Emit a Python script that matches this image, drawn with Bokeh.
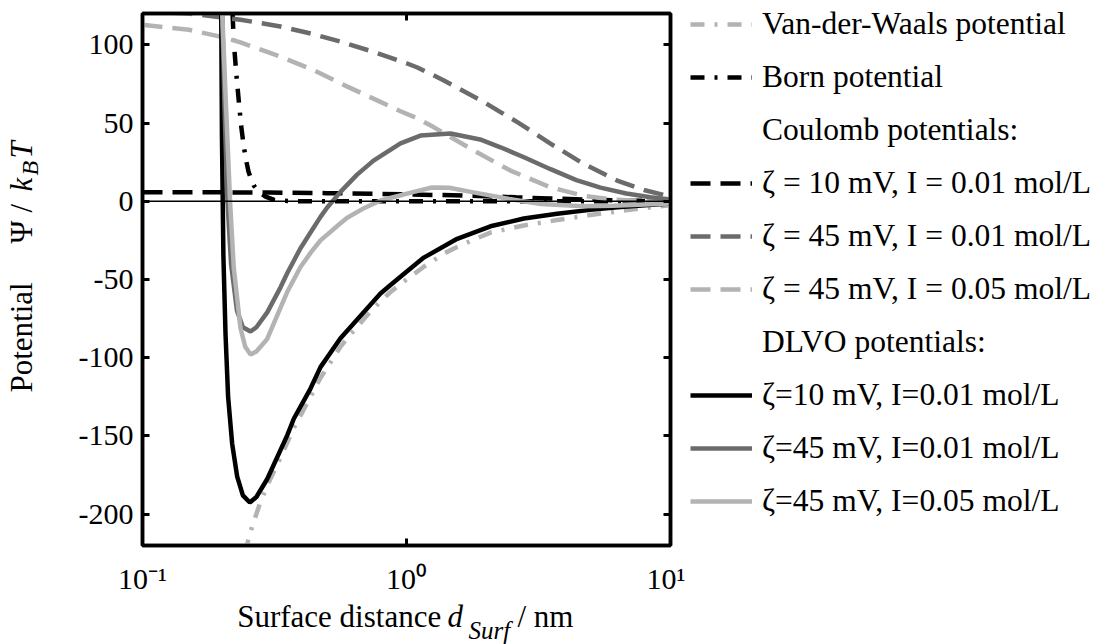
import numpy as np
from bokeh.plotting import figure
from bokeh.layouts import row, column
from bokeh.models import (Range1d, FixedTicker, LinearAxis, LogAxis, Legend,
                          LegendItem, Span)
from bokeh.core.properties import value
from bokeh.embed import file_html
from bokeh.resources import INLINE

# ---------------- data ----------------
# surface distance d / nm  and potential / kBT
d_vdw = [0.245, 0.2493, 0.26, 0.28, 0.30, 0.333, 0.374, 0.433, 0.472, 0.562, 0.60,
         0.70, 0.797, 0.87, 1.0, 1.16, 1.40, 1.56, 2.08, 2.78, 3.72, 4.96, 6.3, 8.0, 10.0]
v_vdw = [-225, -219, -208, -192, -180, -164, -145, -125, -113, -93, -87,
         -74, -64, -58, -50, -42, -33, -29, -20, -15.5, -12, -8.8, -6.5, -4.3, -2.5]

d_born = [0.212, 0.2154, 0.2192, 0.2217, 0.2265, 0.2316, 0.2365, 0.2419, 0.247, 0.252,
          0.258, 0.264, 0.278, 0.2924, 0.3135, 0.34, 0.40, 1.0, 10.0]
v_born = [190, 150, 121, 102, 82, 64, 48, 35, 26, 19,
          14, 10, 5.5, 3, 1, 0.3, 0, 0, 0]

d_coul_10_001 = [0.1, 0.2, 0.3, 0.5, 0.75, 1.0, 1.5, 2.0, 2.6, 3.5, 4.7, 6.3, 8.0, 10.0]
v_coul_10_001 = [5.8, 5.7, 5.6, 5.2, 4.8, 4.4, 3.8, 3.2, 2.5, 1.8, 1.1, 0.6, 0.35, 0.2]

d_coul_45_001 = [0.1, 0.15, 0.2, 0.235, 0.29, 0.333, 0.444, 0.562, 0.75, 1.0, 1.1, 1.38,
                 1.96, 2.27, 2.63, 3.51, 4.68, 6.28, 8.0, 9.17, 10.0]
v_coul_45_001 = [121.5, 120, 117.5, 116, 113.5, 111.7, 106.8, 102, 95.5, 88.2, 85.5, 77.4,
                 63.5, 57, 50.6, 36.8, 24, 13.2, 7, 4.6, 2.5]

d_coul_45_005 = [0.1, 0.15, 0.2, 0.235, 0.333, 0.444, 0.6, 0.797, 0.949, 1.1, 1.266,
                 1.794, 2.477, 3.512, 4.682, 6.0, 7.24, 10.0]
v_coul_45_005 = [112.8, 109.6, 105, 101.5, 92.4, 83.9, 73.1, 63.5, 57.5, 53, 47.4,
                 32.5, 19.6, 8.9, 3.5, 1.2, 0.5, 0.1]

d_dlvo_10_001 = [0.196, 0.1987, 0.200, 0.2025, 0.2063, 0.211, 0.2186, 0.2284, 0.24, 0.255,
                 0.27, 0.2968, 0.3533, 0.3742, 0.4329, 0.4723, 0.5623, 0.797, 0.87, 1.0,
                 1.163, 1.556, 2.08, 2.782, 3.72, 4.96, 6.3, 8.0, 10.0]
v_dlvo_10_001 = [170, 120, 40, -35, -85, -125, -155, -176, -188, -192.5,
                 -189, -177.5, -149.6, -139, -119.7, -106, -87.5, -59, -53.5, -45,
                 -36, -24, -16, -11, -8, -5.5, -3.8, -2.5, -1.5]

d_dlvo_45_001 = [0.1975, 0.2005, 0.2045, 0.2098, 0.2165, 0.228, 0.24, 0.2566, 0.27, 0.2968,
                 0.3333, 0.3533, 0.3967, 0.4329, 0.4723, 0.5009, 0.5623, 0.65, 0.75, 0.949,
                 1.13, 1.468, 1.9, 2.27, 2.8, 3.512, 4.4, 5.43, 6.8, 8.4, 10.0]
v_dlvo_45_001 = [170, 120, 60, 0, -40, -70, -80.5, -83.2, -80.5, -71,
                 -55, -46, -30, -20, -10, -4, 6, 17, 26, 37,
                 42, 43.3, 39.5, 34.5, 28, 20.5, 13.5, 8.7, 5, 2.6, 1.2]

d_dlvo_45_005 = [0.1985, 0.2005, 0.2073, 0.2146, 0.2217, 0.235, 0.245, 0.2566, 0.27, 0.2968,
                 0.3333, 0.3533, 0.3967, 0.4329, 0.4723, 0.5623, 0.5962, 0.68, 0.797, 1.066,
                 1.25, 1.45, 1.794, 2.45, 3.23, 4.68, 6.08, 8.0, 10.0]
v_dlvo_45_005 = [170, 120, 60, 0, -42.5, -81, -93, -98, -96, -88,
                 -68, -58, -42, -33, -25, -14, -10.5, -5, 0.5, 6,
                 8.8, 8.6, 5.7, 1.4, -1.8, -3.2, -2.8, -2, -1.5]

y_ticks = [-200, -150, -100, -50, 0, 50, 100]
x_ticks = [0.1, 1, 10]
x_tick_labels = ["10\u207b\u00b9", "10\u2070", "10\u00b9"]

legend_labels = ["Van-der-Waals potential", "Born potential", "Coulomb potentials:",
                 "\u03b6 = 10 mV, I = 0.01 mol/L", "\u03b6 = 45 mV, I = 0.01 mol/L",
                 "\u03b6 = 45 mV, I = 0.05 mol/L", "DLVO potentials:",
                 "\u03b6=10 mV, I=0.01 mol/L", "\u03b6=45 mV, I=0.01 mol/L",
                 "\u03b6=45 mV, I=0.05 mol/L"]

# ---------------- styling ----------------
FONT = "Liberation Serif"
LIGHT = "#b3b3b3"
DARK = "#6b6b6b"
BLACK = "#000000"
DASH = "20 10"
DASHDOT = "14 10 3 10"
LW = 4.5

W_YLAB = 50          # strip with the rotated y title
BL = 142 - W_YLAB    # left border of main plot (tick labels)
FW, FH = 528, 532    # plot frame
BR = 15
W_MAIN = BL + FW + BR
H_MAIN = 596
H_XLAB = 644 - H_MAIN
W_LEG = 1110 - W_YLAB - W_MAIN
H_ALL = H_MAIN + H_XLAB


def blank(w, h):
    f = figure(width=w, height=h, x_range=Range1d(0, w), y_range=Range1d(h, 0),
               x_axis_type=None, y_axis_type=None, output_backend="svg",
               toolbar_location=None, min_border=0)
    f.grid.visible = False
    f.outline_line_color = None
    f.background_fill_color = "white"
    f.border_fill_color = "white"
    return f


# ---------------- main plot ----------------
p = figure(x_axis_type="log", x_range=Range1d(0.1, 10), y_range=Range1d(-220, 120),
           frame_width=FW, frame_height=FH,
           min_border_left=BL, min_border_right=BR,
           min_border_top=13, min_border_bottom=H_MAIN - 13 - FH,
           output_backend="svg", toolbar_location=None)
p.background_fill_color = "white"
p.border_fill_color = "white"
p.grid.visible = False
p.outline_line_color = "black"
p.outline_line_width = 3.5

xa = p.xaxis[0]
xa.ticker = FixedTicker(ticks=x_ticks)
xa.major_label_overrides = dict(zip(x_ticks, x_tick_labels))
xa.major_label_text_font = FONT
xa.major_label_text_font_size = "30px"
xa.major_label_text_color = "black"
xa.major_label_standoff = 16

ya = p.yaxis[0]
ya.ticker = FixedTicker(ticks=y_ticks)
ya.major_label_overrides = {t: str(t) for t in y_ticks}
ya.major_label_text_font = FONT
ya.major_label_text_font_size = "30px"
ya.major_label_text_color = "black"
ya.major_label_standoff = 9

ax_r = LinearAxis(ticker=FixedTicker(ticks=y_ticks), major_label_text_font_size="2px",
                  major_label_text_alpha=0, major_label_standoff=0)
ax_t = LogAxis(ticker=FixedTicker(ticks=x_ticks), major_label_text_font_size="2px",
               major_label_text_alpha=0, major_label_standoff=0)
p.add_layout(ax_r, "right")
p.add_layout(ax_t, "above")
for ax in [xa, ya, ax_r, ax_t]:
    ax.axis_line_width = 3.5
    ax.axis_line_color = "black"
    ax.major_tick_in = 7
    ax.major_tick_out = 0
    ax.major_tick_line_width = 3
    ax.major_tick_line_color = "black"
    ax.minor_tick_in = 0
    ax.minor_tick_out = 0
    ax.minor_tick_line_color = None

p.add_layout(Span(location=0, dimension="width", line_color="black", line_width=1.5))

styles = [
    dict(line_color=LIGHT, line_width=LW, line_dash=DASHDOT),   # Van-der-Waals
    dict(line_color=BLACK, line_width=LW, line_dash=DASHDOT),   # Born
    dict(line_color=BLACK, line_width=LW, line_dash=DASH),      # Coulomb 10 / 0.01
    dict(line_color=DARK, line_width=LW, line_dash=DASH),       # Coulomb 45 / 0.01
    dict(line_color=LIGHT, line_width=LW, line_dash=DASH),      # Coulomb 45 / 0.05
    dict(line_color=BLACK, line_width=LW),                      # DLVO 10 / 0.01
    dict(line_color=DARK, line_width=LW),                       # DLVO 45 / 0.01
    dict(line_color=LIGHT, line_width=LW),                      # DLVO 45 / 0.05
]
series = [(d_vdw, v_vdw), (d_born, v_born), (d_coul_10_001, v_coul_10_001),
          (d_coul_45_001, v_coul_45_001), (d_coul_45_005, v_coul_45_005),
          (d_dlvo_10_001, v_dlvo_10_001), (d_dlvo_45_001, v_dlvo_45_001),
          (d_dlvo_45_005, v_dlvo_45_005)]
for (xs, ys), st in zip(series, styles):
    p.line(xs, ys, **st)

# ---------------- y title strip (rotated, pieces for italics/subscript) ----------------
fy = blank(W_YLAB, H_ALL)
A = np.pi / 2
y_pieces = [  # x (text centre line), y (start), text, size, style
    (20.5, 392, "Potential", "31px", "normal"),
    (20.5, 243, "\u03a8", "31px", "normal"),
    (20.5, 212, "/", "31px", "normal"),
    (20.5, 191, "k", "31px", "italic"),
    (29.5, 175, "B", "24px", "italic"),
    (20.5, 158, "T", "31px", "italic"),
]
for x, y, t, s, st in y_pieces:
    fy.text(x=[x], y=[y], text=[t], angle=A, text_align="left",
            text_baseline="middle", text_font=value(FONT),
            text_font_size=value(s), text_font_style=st, text_color="black")

# ---------------- x title strip (frame aligned with the plot frame) ----------------
fx = figure(frame_width=FW, frame_height=H_XLAB, min_border_left=BL, min_border_right=BR,
            min_border_top=0, min_border_bottom=0,
            x_range=Range1d(142, 142 + FW), y_range=Range1d(H_ALL, H_MAIN),
            x_axis_type=None, y_axis_type=None, output_backend="svg",
            toolbar_location=None)
fx.grid.visible = False
fx.outline_line_color = None
fx.background_fill_color = "white"
fx.border_fill_color = "white"
x_pieces = [  # canvas x, canvas y of text centre line
    (236.7, 615, "Surface distance", "31px", "normal"),
    (447, 615, "d", "31px", "italic"),
    (468, 629, "Surf", "25px", "italic"),
    (517, 615, "/ nm", "31px", "normal"),
]
for x, y, t, s, st in x_pieces:
    fx.text(x=[x], y=[y], text=[t], text_align="left", text_baseline="middle",
            text_font=value(FONT), text_font_size=value(s), text_font_style=st,
            text_color="black")

# ---------------- legend ----------------
fl = blank(W_LEG, H_ALL)
off = dict(x=[-60, -50], y=[-60, -60])   # legend-only renderers, outside the strip
leg_r = [fl.line(**off, **st) for st in styles]
head1 = fl.line(**off, line_alpha=0)
head2 = fl.line(**off, line_alpha=0)
leg_renderers = [leg_r[0], leg_r[1], head1, leg_r[2], leg_r[3], leg_r[4], head2,
                 leg_r[5], leg_r[6], leg_r[7]]
items = [LegendItem(label=lab, renderers=[r]) for lab, r in zip(legend_labels, leg_renderers)]
legend = Legend(items=items, location="top_left", orientation="vertical",
                label_text_font=FONT, label_text_font_size="31.5px",
                label_text_color="black", label_height=38, glyph_height=38,
                glyph_width=62, label_standoff=10, spacing=15, padding=0, margin=5,
                border_line_alpha=0, background_fill_alpha=0)
fl.add_layout(legend)

layout = row(fy, column(p, fx, spacing=0), fl, spacing=0)
open("out.html", "w").write(file_html(layout, INLINE))
